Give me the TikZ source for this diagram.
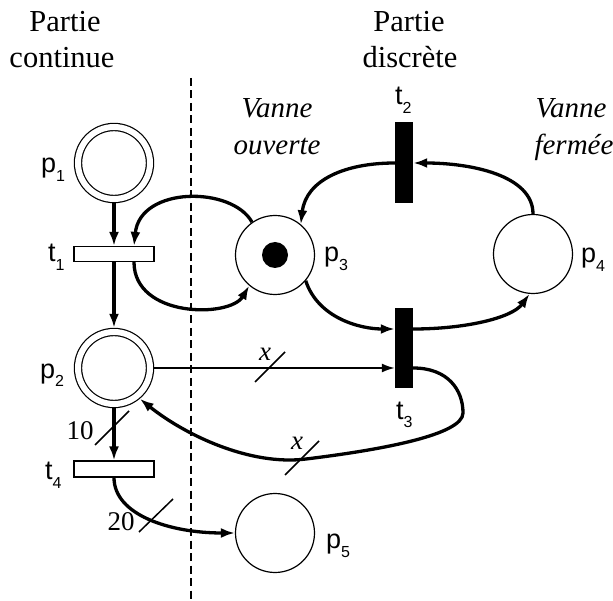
\documentclass[tikz,border=0pt]{standalone}
\usepackage{fontspec}
\setmainfont{Liberation Serif}
\setsansfont{Liberation Sans}
\usetikzlibrary{arrows.meta,calc}
\newcommand{\lab}[2]{p\raisebox{-9pt}{\fontsize{16}{16}\selectfont #2}}
\newcommand{\labx}[2]{#1\raisebox{-9pt}{\fontsize{16}{16}\selectfont #2}}
\begin{document}
\begin{tikzpicture}[x=1pt,y=-1pt,
  place/.style={circle,draw,line width=1.2pt,minimum size=79pt,inner sep=0pt},
  cplace/.style={circle,draw,line width=1.2pt,double,double distance=6pt,minimum size=72pt,inner sep=0pt,outer sep=4.2pt},
  tokenmark/.style={circle,fill=black,minimum size=26pt,inner sep=0pt},
  ctrans/.style={rectangle,draw,line width=1.2pt,fill=white,minimum width=80pt,minimum height=15pt,inner sep=0pt},
  dtrans/.style={rectangle,fill=black,minimum width=18pt,minimum height=81pt,inner sep=0pt},
  arc/.style={line width=3.3pt,-{Latex[length=14pt,width=10pt]}},
  thinarc/.style={line width=1.8pt,-{Latex[length=13pt,width=9pt]}},
  slash/.style={line width=1.5pt},
  lbl/.style={font=\sffamily\fontsize{27}{27}\selectfont,inner sep=0pt,anchor=base west},
  ttl/.style={font=\fontsize{30.5}{30.5}\selectfont,inner sep=0pt,anchor=base},
  itl/.style={font=\itshape\fontsize{29}{29}\selectfont,inner sep=0pt,anchor=base},
  wt/.style={font=\itshape\fontsize{27}{27}\selectfont,inner sep=0pt},
  num/.style={font=\fontsize{27}{27}\selectfont,inner sep=0pt}]
\useasboundingbox (0,0) rectangle (613,601);
\fill[white] (0,0) rectangle (613,601);

% titles
\node[ttl] (tc1) at (65,32) {Partie};
\node[ttl] (tc2) at (62,68) {continue};
\node[ttl] (td1) at (409,32) {Partie};
\node[ttl] (td2) at (410,68) {discrète};
\node[itl] (vo1) at (277,118) {Vanne};
\node[itl] (vo2) at (277,155) {ouverte};
\node[itl] (vf1) at (571,118) {Vanne};
\node[itl] (vf2) at (574,155) {fermée};

% separator
\draw[line width=2.5pt,dash pattern=on 8pt off 4.5pt] (191,78) -- (191,601);

% places
\node[cplace] (p1) at (114,163) {};
\node[cplace] (p2) at (114,368) {};
\node[place] (p3) at (275,255) {};
\node[tokenmark] (tok) at (275,255) {};
\node[place] (p4) at (533,254) {};
\node[place] (p5) at (275,533) {};

% transitions
\node[ctrans] (t1) at (114,254) {};
\node[ctrans,minimum height=16pt] (t4) at (114,469) {};
\node[dtrans] (t2) at (404,163) {};
\node[dtrans,minimum height=80pt] (t3) at (404,348) {};

% labels
\node[lbl] (lp1) at (41,173) {\lab{p}{1}};
\node[lbl] (lp2) at (40,378) {\lab{p}{2}};
\node[lbl] (lp3) at (324,262) {\lab{p}{3}};
\node[lbl] (lp4) at (581,263) {\lab{p}{4}};
\node[lbl] (lp5) at (326,548) {\lab{p}{5}};
\node[lbl] (lt1) at (48,262) {\labx{t}{1}};
\node[lbl] (lt4) at (45,479) {\labx{t}{4}};
\node[lbl] (lt2) at (395,105) {\labx{t}{2}};
\node[lbl] (lt3) at (396,419) {\labx{t}{3}};

% arcs
\draw[arc] (p1) -- (t1);
\draw[arc] (t1) -- (p2);
\draw[arc] (p3.125) .. controls (232,186) and (140,186) .. ($(t1.north)+(20,0)$);
\draw[arc] ($(t1.south)+(20,0)$) .. controls (134,318) and (230,318) .. (p3.230);
\draw[arc] (p3.-40) .. controls (318,318) and (360,329) .. ($(t3.west)+(0,-19)$);
\draw[arc] ($(t3.east)+(0,-19)$) .. controls (465,329) and (512,318) .. (p4.-95);
\draw[arc] (p4.north) .. controls (533,175) and (470,163) .. (t2.east);
\draw[arc] (t2.west) .. controls (345,163) and (306,180) .. (p3.50);
\draw[thinarc] (p2.east) -- (p2.east -| t3.west);
\draw[arc] (p2.east -| t3.east) .. controls (448,368) and (463,390) .. (463,413)
  .. controls (463,435) and (380,450) .. (306,459)
  .. controls (250,466) and (185,435) .. (p2.-50);
\draw[arc] (p2) -- (t4);
\draw[arc] (t4.south) .. controls (114,515) and (170,533) .. (p5.west);

% weights
\draw[slash] (270,367) +(-15,15) -- +(15,-15);
\draw[slash] (112,428) +(-17,17) -- +(17,-17);
\draw[slash] (156,516) +(-17,16) -- +(17,-17);
\draw[slash] (302,458) +(-17,17) -- +(17,-17);
\node[wt] (w1) at (265,354) {x};
\node[wt] (w2) at (297,443) {x};
\node[num] (w3) at (80,431) {10};
\node[num] (w4) at (121,522) {20};
\end{tikzpicture}
\end{document}
